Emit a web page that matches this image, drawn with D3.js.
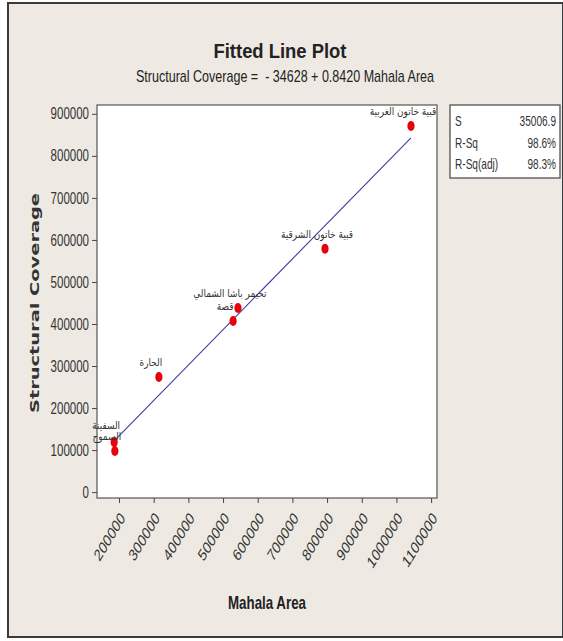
<!DOCTYPE html>
<html><head><meta charset="utf-8">
<script src="https://cdn.jsdelivr.net/npm/d3@7"></script>
<style>body{margin:0;background:#fff}</style>
</head><body>
<script>
// Data
const names = ["قبية خاتون الغربية","قبية خاتون الشرقية","تحيمر باشا الشمالي","قصة","الحارة","السفينة","السموح"];
const mahalaArea = [1042000, 794000, 543000, 529000, 315000, 186000, 188000];
const structuralCoverage = [871000, 579000, 438000, 407000, 274000, 119000, 98000];
const xTicks = [200000,300000,400000,500000,600000,700000,800000,900000,1000000,1100000];
const yTicks = [0,100000,200000,300000,400000,500000,600000,700000,800000,900000];
const intercept = -34628, slope = 0.8420;
const statLabels = ["S","R-Sq","R-Sq(adj)"];
const statValues = ["35006.9","98.6%","98.3%"];

const W = 563, H = 641, SX = 0.72;
const sans = "'Liberation Sans',Arial,sans-serif";
const dv = "'DejaVu Sans',sans-serif";
const svg = d3.select("body").append("svg").attr("width",W).attr("height",H);
svg.append("rect").attr("x",0).attr("y",0).attr("width",W).attr("height",H).attr("fill","#fff");
svg.append("rect").attr("x",8).attr("y",3).attr("width",W-8).attr("height",634)
  .attr("fill","#EEEAE3").attr("stroke","#3a3a3a").attr("stroke-width",2);

function squeeze(sel, f){
  sel.each(function(){
    const n = this.getComputedTextLength();
    d3.select(this).attr("textLength", n*f).attr("lengthAdjust","spacingAndGlyphs");
  });
}
function fitW(sel, w){ sel.attr("textLength", w).attr("lengthAdjust","spacingAndGlyphs"); }

const L=97, R=437, T=105, B=498;
const x = d3.scaleLinear().domain([136500,1117000]).range([L,R]);
const y = d3.scaleLinear().domain([-14000,921000]).range([B,T]);

svg.append("rect").attr("x",L).attr("y",T).attr("width",R-L).attr("height",B-T)
  .attr("fill","#fff").attr("stroke","#555").attr("stroke-width",1.2);

// Axes
const gx = svg.append("g").attr("transform",`translate(0,${B})`)
  .call(d3.axisBottom(x).tickValues(xTicks).tickFormat(d3.format("d")).tickSizeOuter(0).tickSize(5));
gx.select(".domain").remove();
gx.selectAll("line").attr("stroke","#444");
gx.selectAll(".tick text").attr("font-family",sans).attr("font-size",17).attr("fill","#333")
  .attr("text-anchor","end").attr("x",0).attr("y",0).attr("dy","0.35em")
  .attr("transform",`translate(3,17) scale(${SX},1) rotate(-50)`);

const gy = svg.append("g").attr("transform",`translate(${L},0)`)
  .call(d3.axisLeft(y).tickValues(yTicks).tickFormat(d3.format("d")).tickSizeOuter(0).tickSize(5));
gy.select(".domain").remove();
gy.selectAll("line").attr("stroke","#444");
gy.selectAll(".tick text").attr("font-family",sans).attr("font-size",16).attr("fill","#333").attr("x",-8)
  .call(squeeze, SX);

// Fitted line
const xmin = d3.min(mahalaArea), xmax = d3.max(mahalaArea);
const fitPts = [xmin, xmax].map(v => [v, intercept + slope*v]);
svg.append("path").datum(fitPts)
  .attr("d", d3.line().x(d=>x(d[0])).y(d=>y(d[1])))
  .attr("stroke","#3c3ca6").attr("stroke-width",1.1).attr("fill","none");

// Points
const pts = mahalaArea.map((v,i)=>({x:v,y:structuralCoverage[i],n:names[i]}));
svg.append("g").selectAll("ellipse").data(pts).join("ellipse")
  .attr("cx",d=>x(d.x)).attr("cy",d=>y(d.y)).attr("rx",3.6).attr("ry",5)
  .attr("fill","#e8000b");

// Labels: placed above each point; simple vertical de-collision
const lab = pts.map(d=>({n:d.n, lx:x(d.x)-8, ly:y(d.y)-11}));
const byY = lab.slice().sort((a,b)=>b.ly-a.ly);
for (let i=0;i<byY.length;i++){
  for (let j=0;j<i;j++){
    const a=byY[j], b=byY[i];
    if (Math.abs(a.lx-b.lx)<30 && a.ly-b.ly<11) b.ly = a.ly-11;
  }
}
svg.append("g").selectAll("text").data(lab).join("text")
  .attr("x",d=>d.lx).attr("y",d=>d.ly)
  .attr("text-anchor","middle").attr("direction","rtl")
  .attr("font-family",dv).attr("font-size",10.5).attr("fill","#333")
  .text(d=>d.n)
  .call(squeeze, 0.85);

// Titles
svg.append("text").attr("x",280).attr("y",58).attr("text-anchor","middle")
  .attr("font-family",sans).attr("font-weight","bold").attr("font-size",21).attr("fill","#222")
  .text("Fitted Line Plot").call(fitW, 133);
svg.append("text").attr("x",285).attr("y",82).attr("text-anchor","middle")
  .attr("font-family",sans).attr("font-size",17).attr("fill","#222")
  .style("white-space","pre")
  .text("Structural Coverage =  - 34628 + 0.8420 Mahala Area").call(fitW, 298);
svg.append("text").attr("x",267).attr("y",609).attr("text-anchor","middle")
  .attr("font-family",sans).attr("font-weight","bold").attr("font-size",19).attr("fill","#222")
  .text("Mahala Area").call(fitW, 78);
svg.append("text").attr("transform",`translate(39,303) scale(${SX},1) rotate(-90)`).attr("text-anchor","middle")
  .attr("font-family",dv).attr("font-weight","bold").attr("font-size",17).attr("fill","#333")
  .text("Structural Coverage").call(fitW, 220);

// Stats box
svg.append("rect").attr("x",450).attr("y",105).attr("width",110).attr("height",73)
  .attr("fill","#fff").attr("stroke","#444").attr("stroke-width",1.2);
const sg = svg.append("g").attr("font-family",sans).attr("font-size",14).attr("fill","#333");
statLabels.forEach((s,i)=>{
  const yy = 126+i*21.5;
  sg.append("text").attr("transform",`translate(455,${yy}) scale(${SX},1)`).text(s);
  sg.append("text").attr("transform",`translate(556,${yy}) scale(${SX},1)`).attr("text-anchor","end").text(statValues[i]);
});
</script>
</body></html>
